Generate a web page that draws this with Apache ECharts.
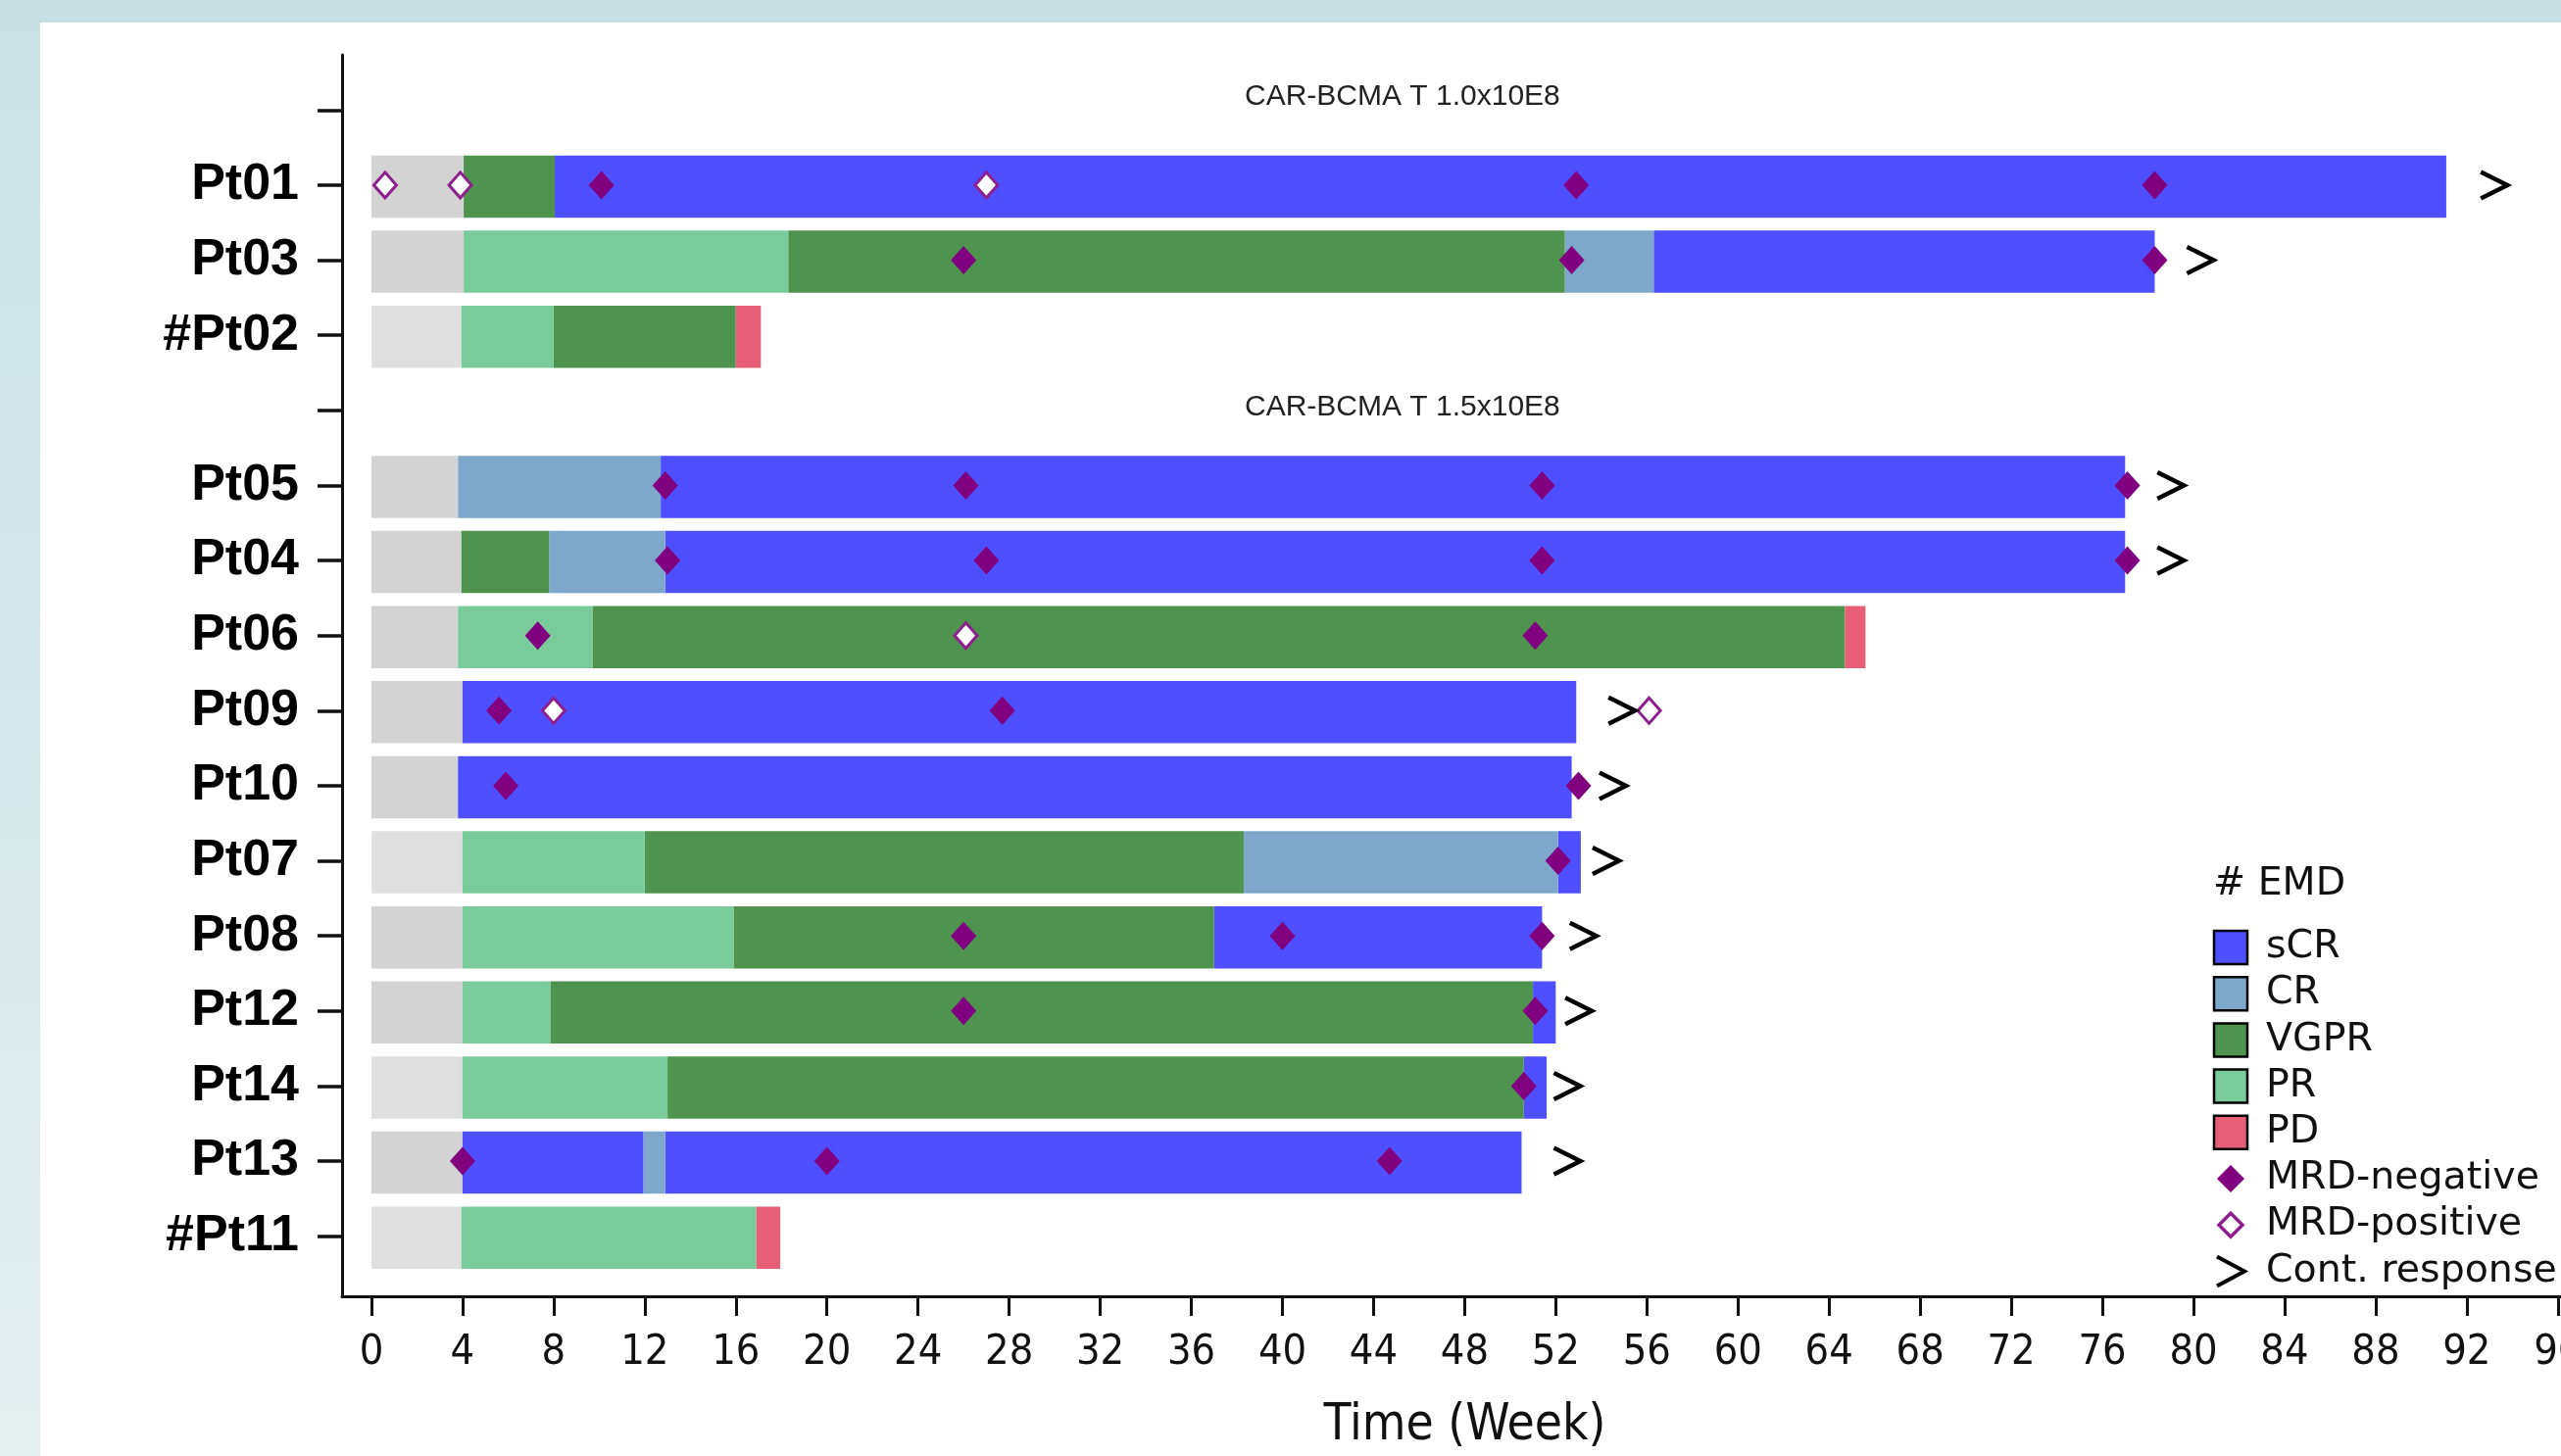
<!DOCTYPE html>
<html>
<head>
<meta charset="utf-8">
<script src="https://cdn.jsdelivr.net/npm/echarts@6/dist/echarts.min.js"></script>
<style>
html,body{margin:0;padding:0;overflow:hidden;width:2613px;height:1486px;}
body{background:linear-gradient(to bottom,#c8e0e4 0%,#d6e8eb 50%,#e4eff0 100%);position:relative;}
#panel{position:absolute;left:41px;top:23px;right:0;bottom:0;background:#ffffff;}
#chart{position:absolute;left:0;top:0;width:2700px;height:1486px;}
</style>
</head>
<body>
<div id="panel"></div>
<div id="chart"></div>
<script>
// ---------------- data ----------------
const rows = ['', 'Pt01', 'Pt03', '#Pt02', '', 'Pt05', 'Pt04', 'Pt06', 'Pt09', 'Pt10', 'Pt07', 'Pt08', 'Pt12', 'Pt14', 'Pt13', '#Pt11'];
const xTicks = [0, 4, 8, 12, 16, 20, 24, 28, 32, 36, 40, 44, 48, 52, 56, 60, 64, 68, 72, 76, 80, 84, 88, 92, 96];
const doseGroups = ['CAR-BCMA T 1.0x10E8', 'CAR-BCMA T 1.5x10E8'];
const emdNote = '# EMD';

// [patient, start week, end week]
const baseline = [['Pt01',0,4.05],['Pt03',0,4.05],['#Pt02',0,3.95],['Pt05',0,3.8],['Pt04',0,3.95],['Pt06',0,3.8],['Pt09',0,4.0],['Pt10',0,3.8],['Pt07',0,4.0],['Pt08',0,4.0],['Pt12',0,4.0],['Pt14',0,4.0],['Pt13',0,4.0],['#Pt11',0,3.95]];
const sCR = [['Pt01',8.05,91.1],['Pt03',56.3,78.3],['Pt05',12.7,77.0],['Pt04',12.9,77.0],['Pt09',4.0,52.9],['Pt10',3.8,52.7],['Pt07',52.1,53.1],['Pt08',37.0,51.4],['Pt12',51.0,52.0],['Pt14',50.6,51.6],['Pt13',4.0,11.95],['Pt13',12.9,50.5]];
const CR = [['Pt03',52.4,56.3],['Pt05',3.8,12.7],['Pt04',7.8,12.9],['Pt07',38.3,52.1],['Pt13',11.95,12.9]];
const VGPR = [['Pt01',4.05,8.05],['Pt03',18.3,52.4],['#Pt02',8.0,16.0],['Pt04',3.95,7.8],['Pt06',9.7,64.7],['Pt07',12.0,38.3],['Pt08',15.9,37.0],['Pt12',7.85,51.0],['Pt14',13.0,50.6]];
const PR = [['Pt03',4.05,18.3],['#Pt02',3.95,8.0],['Pt06',3.8,9.7],['Pt07',4.0,12.0],['Pt08',4.0,15.9],['Pt12',4.0,7.85],['Pt14',4.0,13.0],['#Pt11',3.95,16.9]];
const PD = [['#Pt02',16.0,17.1],['Pt06',64.7,65.6],['#Pt11',16.9,17.95]];

// [patient, week]
const mrdNegative = [['Pt01',10.1],['Pt01',52.9],['Pt01',78.3],['Pt03',26.0],['Pt03',52.7],['Pt03',78.3],['Pt05',12.9],['Pt05',26.1],['Pt05',51.4],['Pt05',77.1],['Pt04',13.0],['Pt04',27.0],['Pt04',51.4],['Pt04',77.1],['Pt06',7.3],['Pt06',51.1],['Pt09',5.6],['Pt09',27.7],['Pt10',5.9],['Pt10',53.0],['Pt07',52.1],['Pt08',26.0],['Pt08',40.0],['Pt08',51.4],['Pt12',26.0],['Pt12',51.1],['Pt14',50.6],['Pt13',4.0],['Pt13',20.0],['Pt13',44.7]];
const mrdPositive = [['Pt01',0.6],['Pt01',3.9],['Pt01',27.0],['Pt06',26.1],['Pt09',8.0],['Pt09',56.1]];
const contResponse = [['Pt01',93.2],['Pt03',80.3],['Pt05',79.0],['Pt04',79.0],['Pt09',54.9],['Pt10',54.5],['Pt07',54.2],['Pt08',53.2],['Pt12',53.0],['Pt14',52.5],['Pt13',52.5]];

// ---------------- styles ----------------
const lightBaseRows = ['#Pt02','Pt07','Pt14','#Pt11'];
const colors = {base:'#d3d3d3', baseLight:'#dfdfdf', sCR:'#4f4fff', CR:'#7ea8cb', VGPR:'#4e944f', PR:'#79cb9c', PD:'#e75e78'};
const purple = '#800080';
const purpleOpen = '#8e1f8e';

const rowTicks = rows.map((r, i) => i);
const segData = arr => arr.map(d => [rows.indexOf(d[0]), d[1], d[2]]);
const ptData = arr => arr.map(d => [d[1], rows.indexOf(d[0])]);

function renderSeg(params, api) {
  const row = api.value(0), s = api.value(1), e = api.value(2);
  const p0 = api.coord([s, row]);
  const p1 = api.coord([e, row]);
  const h = api.size([0, 0.83])[1];
  return {
    type: 'rect',
    shape: {x: p0[0], y: p0[1] - h / 2 + 1.5, width: p1[0] - p0[0], height: h},
    style: api.style()
  };
}
function segSeries(name, arr, color) {
  return {
    name: name, type: 'custom', renderItem: renderSeg, z: 2,
    encode: {x: [1, 2], y: 0},
    itemStyle: {color: color},
    data: segData(arr)
  };
}

const baseSeries = segSeries('baseline', baseline, colors.base);
baseSeries.data = baseline.map(d => ({
  value: [rows.indexOf(d[0]), d[1], d[2]],
  itemStyle: {color: lightBaseRows.indexOf(d[0]) >= 0 ? colors.baseLight : colors.base}
}));

const legendTxt = {fontFamily: 'DejaVu Sans, Verdana, sans-serif', fontSize: 39.5, color: '#111', padding: [0, 0, 0, 14], lineHeight: 34};
const rectIcon = c => ({icon: 'rect', itemStyle: {color: c, borderColor: '#000', borderWidth: 2.5}});

const option = {
  animation: false,
  title: [
    {text: doseGroups[0], left: 1270, top: 84, padding: 0,
     textStyle: {fontFamily: 'Liberation Sans, Arial, sans-serif', fontSize: 30, fontWeight: 'normal', color: '#222', lineHeight: 30}},
    {text: doseGroups[1], left: 1270, top: 401, padding: 0,
     textStyle: {fontFamily: 'Liberation Sans, Arial, sans-serif', fontSize: 30, fontWeight: 'normal', color: '#222', lineHeight: 30}},
    {text: emdNote, left: 2258, top: 883, padding: 0,
     textStyle: {fontFamily: 'DejaVu Sans, Verdana, sans-serif', fontSize: 39.5, fontWeight: 'normal', color: '#111', lineHeight: 39}}
  ],
  grid: {left: 349, top: 56, right: 60, bottom: 155.3, containLabel: false},
  xAxis: {
    type: 'value', min: -1.29, max: 97.3,
    axisLine: {show: true, onZero: false, lineStyle: {color: '#111', width: 3}},
    axisTick: {show: true, customValues: xTicks, length: 20, lineStyle: {color: '#111', width: 3}},
    axisLabel: {show: true, customValues: xTicks, margin: 36,
      fontFamily: 'DejaVu Sans Condensed, DejaVu Sans, sans-serif', fontSize: 43, color: '#111'},
    splitLine: {show: false},
    name: 'Time (Week)', nameLocation: 'middle', nameGap: 107,
    nameTextStyle: {fontFamily: 'DejaVu Sans Condensed, DejaVu Sans, sans-serif', fontSize: 51, color: '#111'}
  },
  yAxis: {
    type: 'value', inverse: true, min: -0.735, max: 15.8,
    axisLine: {show: true, onZero: false, lineStyle: {color: '#111', width: 3}},
    axisTick: {show: true, customValues: rowTicks, length: 25, lineStyle: {color: '#111', width: 3.5}},
    axisLabel: {show: true, customValues: rowTicks, margin: 44,
      formatter: v => rows[Math.round(v)] || '',
      fontFamily: 'Liberation Sans, Arial, sans-serif', fontWeight: 'bold', fontSize: 52, color: '#000'},
    splitLine: {show: false}
  },
  legend: {
    orient: 'vertical', left: 2257, top: 947, padding: 0,
    itemWidth: 34, itemHeight: 34, itemGap: 7.2, selectedMode: false,
    textStyle: legendTxt,
    data: [
      Object.assign({name: 'sCR'}, rectIcon(colors.sCR)),
      Object.assign({name: 'CR'}, rectIcon(colors.CR)),
      Object.assign({name: 'VGPR'}, rectIcon(colors.VGPR)),
      Object.assign({name: 'PR'}, rectIcon(colors.PR)),
      Object.assign({name: 'PD'}, rectIcon(colors.PD)),
      {name: 'MRD-negative', icon: 'path://M0,0M34,34M17,3L31,17L17,31L3,17Z',
        itemStyle: {color: purple, borderWidth: 0}},
      {name: 'MRD-positive', icon: 'path://M0,0M34,34M17,5L29,17L17,29L5,17Z',
        itemStyle: {color: '#fff', borderColor: purpleOpen, borderWidth: 3.5}},
      {name: 'Cont. response', icon: 'path://M0,0M34,34M3,2L31,17L3,32',
        itemStyle: {color: 'rgba(0,0,0,0)', borderColor: '#000', borderWidth: 4}}
    ]
  },
  series: [
    baseSeries,
    segSeries('sCR', sCR, colors.sCR),
    segSeries('CR', CR, colors.CR),
    segSeries('VGPR', VGPR, colors.VGPR),
    segSeries('PR', PR, colors.PR),
    segSeries('PD', PD, colors.PD),
    {name: 'MRD-negative', type: 'scatter', z: 4, symbol: 'diamond', symbolSize: [26, 29],
      itemStyle: {color: purple, opacity: 1}, data: ptData(mrdNegative)},
    {name: 'MRD-positive', type: 'scatter', z: 4, symbol: 'diamond', symbolSize: [23, 26],
      itemStyle: {color: '#fff', borderColor: purpleOpen, borderWidth: 3, opacity: 1}, data: ptData(mrdPositive)},
    {name: 'Cont. response', type: 'scatter', z: 4, symbol: 'path://M0,0L10,5L0,10', symbolSize: [27, 27],
      itemStyle: {color: 'rgba(0,0,0,0)', borderColor: '#000', borderWidth: 4.5, borderJoin: 'miter', opacity: 1},
      data: ptData(contResponse)}
  ]
};

const chart = echarts.init(document.getElementById('chart'), null, {renderer: 'canvas'});
chart.setOption(option);
</script>
</body>
</html>
